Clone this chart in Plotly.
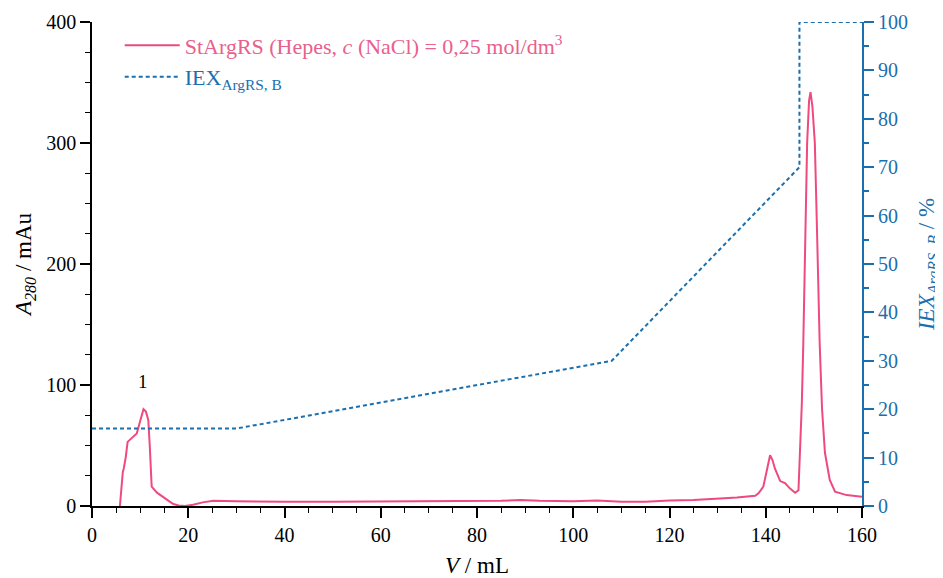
import plotly.graph_objects as go

# Chromatogram (A280, mAu) vs volume (mL)
V_abs = [5.8, 6.2, 6.4, 6.6, 7.0, 7.4, 8.2, 9.3, 10.0, 10.7, 11.2, 11.7, 12.0, 12.4,
         13.5, 14.8, 16.0, 16.9, 18.0, 19.3, 21.0, 23.0, 25.2, 30, 35, 40, 50, 60,
         70, 80, 85, 89, 93, 100, 105, 110, 115, 120, 125, 130.5, 134, 137.8, 138.5,
         139.5, 140.3, 140.9, 141.4, 141.9, 143, 144, 145, 146.1, 146.8, 147.1,
         147.5, 147.8, 148.2, 148.6, 149.0, 149.3, 149.7, 150.2, 150.7, 151.2,
         151.7, 152.3, 153.3, 154.4, 156.8, 160]
A280 = [0, 25, 28, 31, 40, 53, 56, 60, 70, 80, 78, 71, 50, 16,
        11, 7.7, 4, 1.6, 0.5, 0, 1, 3, 4.4, 4, 3.5, 3.5, 3.5, 3.7,
        4, 4, 4.3, 5, 4.3, 4, 4.5, 3.5, 3.5, 4.5, 5, 6.3, 7, 8.5, 10.5,
        16, 30, 42, 38, 31, 20.6, 19, 14.6, 11, 13, 40.8,
        85, 134, 215, 300, 335, 342, 330, 300, 220, 135,
        80, 44, 21.5, 11.8, 9, 7.7]

# Gradient (% B) vs volume (mL)
V_iex = [0, 30, 108, 147, 147, 160]
IEX_B = [16, 16, 30, 70, 100, 100]

x_ticks = [0, 20, 40, 60, 80, 100, 120, 140, 160]

PINK = "#EE4A7E"
PINK_TXT = "#E9608C"
BLUE = "#1B6FAE"
FONT = "Liberation Serif"

fig = go.Figure()
fig.add_trace(go.Scatter(
    x=V_abs, y=A280, mode="lines",
    line=dict(color=PINK, width=2),
    name=f"<span style='color:{PINK_TXT}'>StArgRS (Hepes, <i>c</i> (NaCl) = 0,25 mol/dm<sup>3</sup></span>",
    yaxis="y"))
fig.add_trace(go.Scatter(
    x=V_iex, y=IEX_B, mode="lines",
    line=dict(color=BLUE, width=2, dash="4px,3px"),
    name=f"<span style='color:{BLUE}'>IEX<sub>ArgRS, B</sub></span>",
    yaxis="y2"))

fig.add_annotation(x=10.5, y=103, text="1", showarrow=False,
                   font=dict(family=FONT, size=19, color="black"))

fig.update_layout(
    width=935, height=570,
    margin=dict(l=84, r=81, t=14, b=72),
    paper_bgcolor="white", plot_bgcolor="white",
    font=dict(family=FONT, size=20, color="black"),
    showlegend=True,
    legend=dict(x=0.036, y=0.995, xanchor="left", yanchor="top",
                bgcolor="rgba(0,0,0,0)", font=dict(family=FONT, size=22),
                itemwidth=55, tracegroupgap=0),
    xaxis=dict(range=[0, 160], tickvals=x_ticks, showline=True, linecolor="black",
               linewidth=1.5, ticks="outside", ticklen=10, tickwidth=1.5,
               tickcolor="black", showgrid=False, zeroline=False,
               minor=dict(dtick=5, ticks="outside", ticklen=5, tickwidth=1.2, tickcolor="black"),
               title=dict(text="<i>V</i> / mL", font=dict(family=FONT, size=23), standoff=12),
               automargin=False),
    yaxis=dict(range=[0, 400], dtick=100, showline=True, linecolor="black",
               linewidth=1.5, ticks="outside", ticklen=10, tickwidth=1.5,
               tickcolor="black", showgrid=False, zeroline=False,
               minor=dict(dtick=25, ticks="outside", ticklen=5, tickwidth=1.2, tickcolor="black"),
               title=dict(text="<i>A</i><sub><i>280</i></sub> / mAu", font=dict(family=FONT, size=23), standoff=8),
               automargin=False),
    yaxis2=dict(range=[0, 100], dtick=10, overlaying="y", side="right",
                showline=True, linecolor=BLUE, linewidth=2, ticks="outside",
                ticklen=10, tickwidth=2, tickcolor=BLUE, showgrid=False, zeroline=False,
                tickfont=dict(color=BLUE, family=FONT, size=20),
                minor=dict(dtick=5, ticks="outside", ticklen=5, tickwidth=1.5, tickcolor=BLUE),
                title=dict(text="<i>IEX</i><sub><i>ArgRS, B</i></sub> / %",
                           font=dict(family=FONT, size=23, color=BLUE), standoff=20),
                automargin=False),
)

fig.write_html("out.html")
